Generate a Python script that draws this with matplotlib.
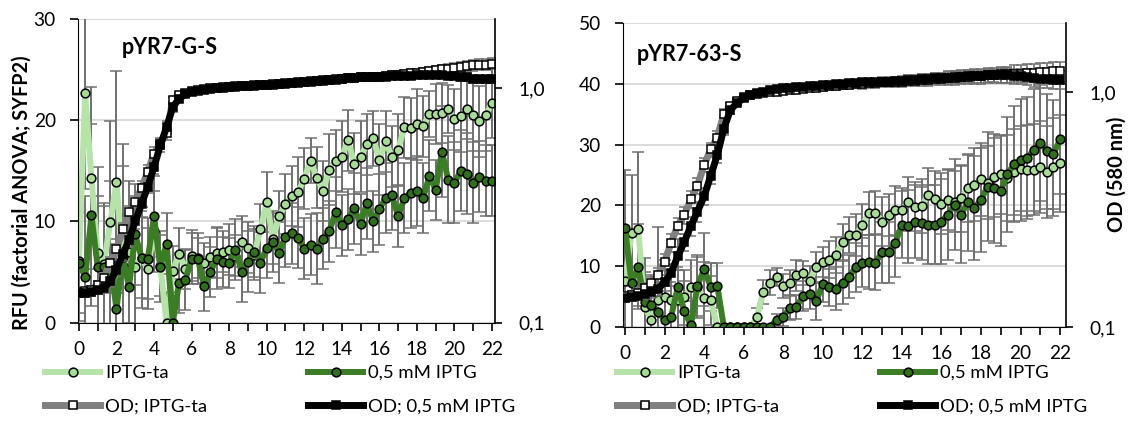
import numpy as np
import matplotlib.pyplot as plt
from matplotlib.lines import Line2D
from matplotlib.ticker import NullLocator

plt.rcParams['font.family'] = ['Lato', 'DejaVu Sans']
plt.rcParams['font.size'] = 13.8

# samples every 20 min, 0 .. 22 h
# ---- left panel: pYR7-G-S ----
l_ta = [6.1, 22.7, 14.3, 6.9, 5.8, 9.9, 13.9, 5.6, 7.0, 5.5,
        6.4, 5.3, 9.0, 5.6, 0.0, 5.1, 6.8, 5.3, 6.6, 6.4,
        5.9, 6.5, 6.9, 7.0, 7.2, 6.6, 8.0, 7.4, 6.7, 9.2,
        11.9, 8.3, 10.5, 11.7, 12.5, 12.9, 14.2, 16.0, 14.3, 13.0,
        15.1, 16.0, 16.4, 18.0, 15.7, 16.4, 17.6, 18.2, 16.1, 17.9,
        16.4, 17.1, 19.3, 19.2, 19.6, 19.4, 20.6, 20.6, 20.7, 21.1,
        20.1, 20.4, 21.1, 20.5, 19.9, 20.5, 21.7]
l_ta_err = [6, 9.5, 9, 8.5, 6, 10, 11, 12, 7, 6,
            5, 4, 4, 3, 3, 2.5, 2.5, 2, 2.5, 2,
            2, 2, 2.5, 2, 2.5, 2, 2.5, 2.5, 2.5, 2.5,
            3, 2.5, 2.5, 3, 3, 3.5, 3, 2.2, 3, 3,
            3.5, 3, 3.5, 3, 3, 3.5, 3, 2.7, 3.5, 3,
            3, 3.5, 3, 3, 3.5, 3, 2.3, 3, 3, 2.4,
            3, 3.5, 3, 3.5, 3.5, 3.5, 3.5]
l_05 = [5.9, 4.5, 10.6, 5.5, 5.5, 6.0, 1.3, 6.5, 3.5, 8.7,
        6.4, 6.3, 10.5, 5.5, 7.8, 0.0, 3.9, 4.2, 6.3, 6.3,
        3.6, 5.0, 6.3, 6.0, 5.9, 7.2, 5.0, 6.0, 7.0, 5.9,
        7.4, 8.0, 6.9, 8.5, 8.8, 8.4, 7.3, 7.7, 7.3, 8.3,
        9.0, 10.9, 9.6, 10.2, 11.3, 9.7, 11.8, 10.0, 11.2, 12.3,
        12.6, 10.5, 12.3, 12.8, 13.0, 12.3, 14.5, 13.1, 16.9, 14.1,
        13.8, 15.0, 14.7, 13.8, 14.4, 14.0, 14.0]
l_05_err = [5, 8, 9, 7, 6, 8, 7, 9, 6, 5,
            4, 4, 4, 3.5, 3, 3, 3, 3, 2.5, 2.5,
            2.5, 2.5, 3, 2.5, 2.5, 3, 3, 3, 2.5, 3,
            3, 3, 3, 3, 3, 3, 3, 3, 3.5, 3,
            3, 3.5, 3, 3, 3.5, 3, 3.5, 3, 3.5, 3.5,
            3.5, 3, 3.5, 3.5, 3.5, 3.5, 3.5, 3, 4.5, 4.3,
            4, 4, 4, 4, 3.5, 3.5, 3.5]
l_od_ta = [0.135, 0.136, 0.138, 0.145, 0.155, 0.18, 0.205, 0.25, 0.295, 0.325,
           0.375, 0.44, 0.525, 0.58, 0.64, 0.89, 0.93, 0.95, 0.97, 0.98,
           0.99, 1.0, 1.0, 1.01, 1.01, 1.02, 1.02, 1.02, 1.03, 1.03,
           1.03, 1.04, 1.04, 1.05, 1.05, 1.06, 1.06, 1.07, 1.07, 1.08,
           1.08, 1.09, 1.09, 1.10, 1.10, 1.11, 1.11, 1.12, 1.12, 1.13,
           1.14, 1.14, 1.15, 1.16, 1.16, 1.17, 1.18, 1.19, 1.20, 1.21,
           1.22, 1.23, 1.24, 1.25, 1.26, 1.26, 1.27]
l_od_ta_err = [0.005, 0.005, 0.005, 0.006, 0.008, 0.01, 0.012, 0.015, 0.02, 0.02,
               0.025, 0.03, 0.035, 0.03, 0.04, 0.03, 0.02, 0.02, 0.015, 0.015,
               0.015, 0.015, 0.015, 0.015, 0.015, 0.015, 0.015, 0.015, 0.015, 0.015,
               0.02, 0.02, 0.02, 0.02, 0.02, 0.02, 0.02, 0.025, 0.025, 0.025,
               0.025, 0.03, 0.03, 0.03, 0.03, 0.035, 0.035, 0.035, 0.04, 0.04,
               0.04, 0.045, 0.045, 0.05, 0.05, 0.05, 0.055, 0.055, 0.06, 0.06,
               0.06, 0.065, 0.065, 0.07, 0.07, 0.07, 0.07]
l_od_05 = [0.133, 0.134, 0.135, 0.137, 0.140, 0.150, 0.168, 0.195, 0.225, 0.27,
           0.32, 0.38, 0.46, 0.57, 0.68, 0.83, 0.90, 0.94, 0.96, 0.97,
           0.98, 0.99, 1.0, 1.0, 1.01, 1.01, 1.02, 1.02, 1.02, 1.03,
           1.03, 1.03, 1.04, 1.04, 1.05, 1.05, 1.06, 1.06, 1.07, 1.07,
           1.08, 1.08, 1.09, 1.10, 1.10, 1.11, 1.11, 1.12, 1.12, 1.12,
           1.13, 1.13, 1.13, 1.13, 1.14, 1.14, 1.14, 1.14, 1.14, 1.13,
           1.13, 1.12, 1.11, 1.09, 1.09, 1.09, 1.09]
l_od_05_err = [0.005, 0.005, 0.005, 0.005, 0.006, 0.008, 0.01, 0.012, 0.015, 0.02,
               0.02, 0.025, 0.03, 0.035, 0.04, 0.04, 0.03, 0.02, 0.015, 0.015,
               0.015, 0.015, 0.015, 0.015, 0.015, 0.015, 0.015, 0.015, 0.015, 0.015,
               0.015, 0.015, 0.015, 0.02, 0.02, 0.02, 0.02, 0.02, 0.02, 0.02,
               0.02, 0.02, 0.025, 0.025, 0.025, 0.025, 0.025, 0.025, 0.03, 0.03,
               0.03, 0.03, 0.03, 0.03, 0.03, 0.035, 0.035, 0.035, 0.035, 0.035,
               0.04, 0.04, 0.04, 0.04, 0.04, 0.04, 0.04]

# ---- right panel: pYR7-63-S ----
r_ta = [7.5, 15.4, 16.1, 3.3, 1.2, 4.5, 5.0, 4.4, 4.4, 4.9,
        6.5, 6.5, 4.7, 4.4, 0.0, 0.0, 0.0, 0.0, 0.0, 0.0,
        1.6, 5.8, 7.3, 8.2, 6.7, 7.3, 8.5, 8.9, 7.5, 9.9,
        10.7, 11.1, 11.8, 14.0, 15.1, 15.1, 16.8, 18.7, 18.8, 17.3,
        18.4, 19.2, 19.3, 20.6, 19.8, 19.9, 21.7, 21.1, 20.3, 20.9,
        20.6, 21.2, 22.8, 23.4, 24.3, 23.7, 24.6, 25.1, 24.5, 25.5,
        26.0, 25.8, 25.9, 26.3, 25.5, 26.3, 26.9]
r_ta_err = [8, 9.6, 12.7, 8, 6, 12, 6, 5, 5, 4.5,
            4.5, 5, 6, 4, 0, 0, 0, 0, 0, 0,
            1.5, 2, 2, 1.5, 2, 2, 2.5, 2, 2.5, 2.5,
            2.5, 3, 3, 3, 3, 3.5, 3.5, 3.5, 3.5, 4,
            3.5, 4, 3.5, 4, 4, 4.5, 4.5, 4.5, 5, 5,
            5, 5.5, 5.5, 6, 6, 6, 6.5, 6.5, 7, 7,
            7, 7.5, 7.5, 7.5, 7.5, 8, 8]
r_05 = [16.3, 7.2, 9.9, 4.1, 3.6, 2.5, 1.2, 1.7, 6.5, 2.6,
        0.3, 6.8, 9.5, 6.6, 6.8, 0.0, 0.0, 0.0, 0.0, 0.0,
        0.0, 0.0, 0.0, 1.2, 1.7, 3.1, 3.3, 5.1, 5.5, 4.2,
        7.1, 6.5, 6.3, 7.3, 8.3, 9.8, 10.6, 10.7, 10.6, 12.3,
        12.3, 13.8, 16.8, 16.6, 17.3, 17.1, 16.8, 16.8, 17.3, 18.5,
        20.1, 18.5, 20.5, 19.6, 20.9, 23.1, 22.8, 22.4, 25.1, 26.8,
        27.5, 27.8, 29.1, 30.3, 28.9, 28.4, 30.9]
r_05_err = [9.5, 8, 7, 5, 5, 4, 4, 5, 8, 5,
            4, 5, 6, 4, 3.7, 0, 0, 0, 0, 0,
            0, 0, 0, 1, 1.5, 2, 2, 2.5, 2.5, 3,
            3, 3, 3.5, 3.5, 3.5, 4, 4, 4.5, 4.5, 5,
            5, 5.5, 5.5, 6, 6, 6, 6.5, 6.5, 7, 7.5,
            7.5, 8, 8, 8.5, 8.5, 9, 9, 9, 9.5, 9.5,
            10, 10, 10, 9.5, 9.5, 9, 9]
r_od_ta = [0.135, 0.137, 0.140, 0.146, 0.154, 0.167, 0.19, 0.228, 0.27, 0.30,
           0.35, 0.40, 0.49, 0.57, 0.64, 0.81, 0.87, 0.92, 0.95, 0.97,
           0.98, 0.99, 1.0, 1.0, 1.01, 1.02, 1.02, 1.03, 1.04, 1.04,
           1.05, 1.06, 1.06, 1.07, 1.07, 1.08, 1.08, 1.09, 1.09, 1.10,
           1.10, 1.11, 1.11, 1.12, 1.12, 1.13, 1.13, 1.14, 1.14, 1.15,
           1.15, 1.16, 1.16, 1.17, 1.17, 1.18, 1.18, 1.19, 1.19, 1.20,
           1.20, 1.21, 1.21, 1.22, 1.22, 1.23, 1.23]
r_od_ta_err = [0.005, 0.005, 0.006, 0.008, 0.01, 0.012, 0.015, 0.02, 0.02, 0.025,
               0.03, 0.03, 0.035, 0.04, 0.04, 0.04, 0.03, 0.02, 0.02, 0.02,
               0.02, 0.02, 0.02, 0.02, 0.025, 0.025, 0.025, 0.03, 0.03, 0.03,
               0.035, 0.035, 0.035, 0.04, 0.04, 0.04, 0.045, 0.045, 0.05, 0.05,
               0.05, 0.055, 0.055, 0.06, 0.06, 0.065, 0.065, 0.07, 0.07, 0.075,
               0.075, 0.08, 0.08, 0.085, 0.085, 0.09, 0.09, 0.095, 0.095, 0.1,
               0.1, 0.105, 0.11, 0.11, 0.115, 0.12, 0.12]
r_od_05 = [0.133, 0.134, 0.136, 0.138, 0.141, 0.145, 0.155, 0.17, 0.20, 0.23,
           0.27, 0.31, 0.36, 0.44, 0.54, 0.70, 0.84, 0.90, 0.94, 0.97,
           0.99, 1.0, 1.02, 1.03, 1.04, 1.04, 1.05, 1.05, 1.06, 1.06,
           1.07, 1.07, 1.08, 1.08, 1.09, 1.09, 1.10, 1.10, 1.10, 1.11,
           1.11, 1.12, 1.12, 1.13, 1.13, 1.14, 1.14, 1.15, 1.15, 1.15,
           1.16, 1.16, 1.17, 1.17, 1.17, 1.18, 1.18, 1.18, 1.18, 1.17,
           1.17, 1.16, 1.15, 1.14, 1.14, 1.13, 1.13]
r_od_05_err = [0.005, 0.005, 0.005, 0.006, 0.008, 0.01, 0.012, 0.015, 0.02, 0.02,
               0.025, 0.03, 0.03, 0.035, 0.04, 0.04, 0.03, 0.02, 0.02, 0.02,
               0.02, 0.02, 0.02, 0.02, 0.02, 0.025, 0.025, 0.025, 0.025, 0.03,
               0.03, 0.03, 0.03, 0.035, 0.035, 0.035, 0.04, 0.04, 0.04, 0.045,
               0.045, 0.045, 0.05, 0.05, 0.055, 0.055, 0.06, 0.06, 0.06, 0.065,
               0.065, 0.07, 0.07, 0.075, 0.075, 0.08, 0.08, 0.085, 0.085, 0.09,
               0.09, 0.09, 0.095, 0.095, 0.1, 0.1, 0.1]

legend_labels = ['IPTG-ta', 'OD; IPTG-ta', '0,5 mM IPTG', 'OD; 0,5 mM IPTG']

LIGHT_LINE = '#b5e3a8'
LIGHT_FACE = '#a6dc94'
DARK_LINE = '#3b7d24'
DARK_FACE = '#2f701b'
GRAY_LINE = '#808080'
ERR_COLOR = '#707070'
RFU_LW, OD_LW = 4.3, 5.0

W, H = 1131, 421
fig = plt.figure(figsize=(W / 100, H / 100), dpi=100)


def rfu_series(ax, hours, vals, err, line_c, face_c):
    ax.errorbar(hours, vals, yerr=err, color=line_c, lw=RFU_LW, marker='o', ms=6.3,
                mfc=face_c, mec='black', mew=1.1, ecolor=ERR_COLOR,
                elinewidth=1.4, capsize=4, capthick=1.4)


def od_series(ax, hours, vals, err, line_c, face_c):
    ax.errorbar(hours, vals, yerr=err, color=line_c, lw=OD_LW, marker='s', ms=5.7,
                mfc=face_c, mec='black', mew=1.1, ecolor=ERR_COLOR,
                elinewidth=1.2, capsize=3.5, capthick=1.2)


def panel(rect, xlim, ymax, title, title_pos, ta, ta_err, m05, m05_err,
          od_ta, od_ta_err, od_05, od_05_err):
    ax = fig.add_axes(rect)
    hours = np.arange(len(ta)) / 3
    rfu_series(ax, hours, ta, ta_err, LIGHT_LINE, LIGHT_FACE)
    rfu_series(ax, hours, m05, m05_err, DARK_LINE, DARK_FACE)
    ax.set_xlim(*xlim)
    ax.set_ylim(0, ymax)
    ax.set_xticks(range(23))
    ax.set_xticklabels([str(h) if h % 2 == 0 else '' for h in range(23)])
    ax.set_yticks(range(0, ymax + 1, 10))
    ax.yaxis.grid(True, color='#d9d9d9', lw=1.3)
    ax.set_axisbelow(True)
    ax.spines['top'].set_visible(False)
    ax.spines['right'].set_visible(False)
    ax.tick_params(axis='both', direction='out', length=6, width=1.2)
    ax.tick_params(axis='x', pad=7)
    ax.tick_params(axis='y', pad=10)
    ax.text(title_pos[0], title_pos[1], title, transform=ax.transAxes,
            fontweight='bold', fontsize=15.5, va='top', ha='left')

    ax2 = ax.twinx()
    od_series(ax2, hours, od_ta, od_ta_err, GRAY_LINE, 'white')
    od_series(ax2, hours, od_05, od_05_err, 'black', 'black')
    ax2.set_yscale('log')
    ax2.set_ylim(0.1, 1.97)
    ax2.set_yticks([0.1, 1.0])
    ax2.set_yticklabels(['0,1', '1,0'])
    ax2.yaxis.set_minor_locator(NullLocator())
    for s in ['top', 'left', 'bottom']:
        ax2.spines[s].set_visible(False)
    ax2.spines['right'].set_linewidth(1.2)
    ax2.tick_params(axis='y', direction='out', length=5, width=1.2, pad=12)
    return ax, ax2


panel([78 / W, 1 - 322.5 / H, 417 / W, 303.5 / H], (-0.05, 22.16), 30,
      'pYR7-G-S', (0.105, 0.94),
      l_ta, l_ta_err, l_05, l_05_err, l_od_ta, l_od_ta_err, l_od_05, l_od_05_err)
panel([623 / W, 1 - 327 / H, 443 / W, 304 / H], (-0.1, 22.3), 50,
      'pYR7-63-S', (0.03, 0.93),
      r_ta, r_ta_err, r_05, r_05_err, r_od_ta, r_od_ta_err, r_od_05, r_od_05_err)

fig.text(22 / W, 1 - 193 / H, 'RFU (factorial ANOVA; SYFP2)', rotation=90,
         ha='center', va='center', fontweight='bold', fontsize=14.3)
fig.text(1117 / W, 1 - 174 / H, 'OD (580 nm)', rotation=90,
         ha='center', va='center', fontweight='bold', fontsize=14.5)


def legend_handles():
    return [
        Line2D([], [], color=LIGHT_LINE, lw=RFU_LW, marker='o', ms=6.3, mfc=LIGHT_FACE, mec='black', mew=1.1),
        Line2D([], [], color=GRAY_LINE, lw=OD_LW, marker='s', ms=5.7, mfc='white', mec='black', mew=1.1),
        Line2D([], [], color=DARK_LINE, lw=RFU_LW, marker='o', ms=6.3, mfc=DARK_FACE, mec='black', mew=1.1),
        Line2D([], [], color='black', lw=OD_LW, marker='s', ms=5.7, mfc='black', mec='black', mew=1.1),
    ]


for x0 in [45 / W, 617 / W]:
    fig.legend(handles=legend_handles(), labels=legend_labels, ncol=2,
               loc='upper left', bbox_to_anchor=(x0, 1 - 365 / H),
               frameon=False, handlelength=3.0, handletextpad=0.25,
               columnspacing=5.45, labelspacing=0.97, borderpad=0,
               borderaxespad=0, fontsize=13.3)

fig.savefig('out.png', dpi=100)
